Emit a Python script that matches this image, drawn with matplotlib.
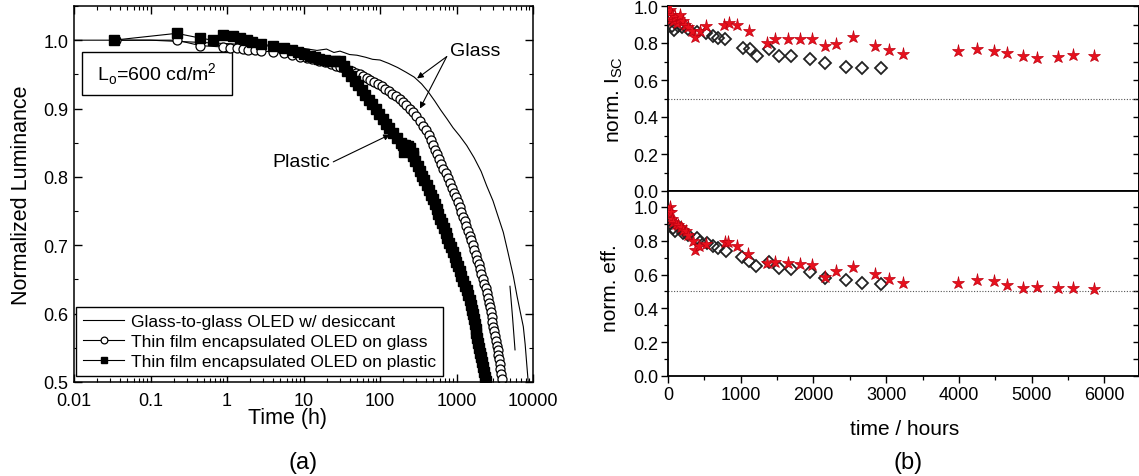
import matplotlib
matplotlib.use("Agg")
import matplotlib.pyplot as plt
from matplotlib.ticker import MultipleLocator, LogLocator, NullFormatter, FixedLocator
from matplotlib.patches import Rectangle

plt.rcParams["font.family"] = ["Liberation Sans", "DejaVu Sans"]
plt.rcParams["mathtext.fontset"] = "custom"
plt.rcParams["mathtext.rm"] = "Liberation Sans"

# ---- panel (a): normalized luminance vs time (log) ----
glass_t = [0.01, 0.1, 1, 3, 5, 10, 15, 20, 25, 30, 40, 50, 65, 80, 100, 130, 170, 220, 280, 350,
           430, 520, 620, 750, 900, 1100, 1360, 1700, 2100, 2480, 3000, 3500, 4090, 4700, 5530,
           6200, 6800, 7470, 7900, 8300, 8690]
glass_v = [1.0, 1.0, 0.995, 0.992, 0.99, 0.988, 0.985, 0.987, 0.982, 0.984, 0.979, 0.978, 0.975,
           0.972, 0.971, 0.966, 0.96, 0.953, 0.946, 0.936, 0.924, 0.911, 0.898, 0.885, 0.872, 0.86,
           0.846, 0.828, 0.808, 0.787, 0.765, 0.742, 0.719, 0.69, 0.655, 0.625, 0.603, 0.581, 0.555,
           0.525, 0.498]
glass2_t = [5000, 5400, 5820]
glass2_v = [0.64, 0.595, 0.547]

tfe_glass_t = [0.035, 0.22, 0.45, 0.9, 1.1, 1.35, 1.6, 1.9, 2.3, 2.8, 4, 5.5, 7, 9, 11, 13, 16, 19,
               23, 27, 30, 34, 38, 43, 48, 54, 60, 67, 75, 84, 94, 105, 117, 130, 145, 162, 180,
               200, 222, 246, 272, 300, 330, 363, 400, 431, 459, 490, 522, 557, 594, 634, 676, 721,
               769, 820, 875, 933, 995, 1052, 1104, 1161, 1222, 1282, 1349, 1419, 1489, 1567,
               1644, 1714, 1791, 1866, 1945, 2028, 2113, 2203, 2301, 2399, 2500, 2570, 2642, 2716,
               2793, 2871, 2951, 3034, 3119, 3206, 3296, 3388, 3467, 3540, 3606, 3681, 3750, 3828,
               3899]
tfe_glass_v = [1.0, 1.0, 0.992, 0.99, 0.989, 0.988, 0.987, 0.986, 0.985, 0.984, 0.983, 0.981, 0.979,
               0.976, 0.974, 0.972, 0.97, 0.968, 0.965, 0.962, 0.961, 0.959, 0.957, 0.955, 0.952,
               0.95, 0.947, 0.945, 0.942, 0.939, 0.936, 0.933, 0.929, 0.926, 0.922, 0.918, 0.914,
               0.91, 0.905, 0.9, 0.895, 0.889, 0.882, 0.875, 0.868, 0.861, 0.854, 0.847, 0.84,
               0.833, 0.826, 0.819, 0.812, 0.805, 0.798, 0.791, 0.784, 0.777, 0.77, 0.763, 0.756,
               0.749, 0.742, 0.735, 0.728, 0.721, 0.714, 0.707, 0.7, 0.693, 0.686, 0.679, 0.672,
               0.665, 0.658, 0.651, 0.644, 0.637, 0.63, 0.623, 0.616, 0.609, 0.602, 0.595, 0.588,
               0.581, 0.574, 0.567, 0.56, 0.553, 0.547, 0.54, 0.533, 0.526, 0.519, 0.512, 0.505]

tfe_plastic_t = [0.033, 0.22, 0.45, 0.65, 0.9, 1.2, 1.5, 1.8, 2.1, 2.8, 4, 5.5, 7, 8.5, 10, 12, 14,
                 16, 19, 22, 26, 30, 33.5, 37.4, 41.8, 46.7, 52.1, 58.2, 64.6, 71.6, 79.4, 88.1,
                 97.5, 108, 120, 133, 149, 167, 187, 200, 204, 214, 230, 246, 270, 270, 289, 310,
                 332, 356, 381, 408, 438, 465, 491, 519, 548, 579, 612, 646, 683, 721, 762, 805,
                 851, 900, 946, 995, 1047, 1104, 1161, 1222, 1285, 1352, 1426, 1500, 1542, 1585,
                 1629, 1679, 1726, 1774, 1824, 1875, 1928, 1982, 2037, 2094, 2158, 2218, 2280,
                 2344, 2410]
tfe_plastic_v = [1.0, 1.01, 1.003, 1.0, 1.008, 1.006, 1.003, 1.0, 0.998, 0.995, 0.991, 0.988, 0.985,
                 0.983, 0.98, 0.977, 0.975, 0.973, 0.971, 0.97, 0.97, 0.969, 0.962, 0.955, 0.948,
                 0.941, 0.934, 0.927, 0.92, 0.913, 0.906, 0.899, 0.892, 0.885, 0.878, 0.871, 0.864,
                 0.857, 0.85, 0.846, 0.837, 0.846, 0.845, 0.843, 0.835, 0.83, 0.823, 0.816, 0.809,
                 0.802, 0.795, 0.788, 0.781, 0.774, 0.767, 0.76, 0.753, 0.746, 0.739, 0.732, 0.725,
                 0.718, 0.711, 0.704, 0.697, 0.69, 0.683, 0.676, 0.669, 0.662, 0.655, 0.648, 0.641,
                 0.634, 0.627, 0.62, 0.613, 0.606, 0.599, 0.592, 0.585, 0.578, 0.571, 0.564, 0.557,
                 0.55, 0.543, 0.536, 0.529, 0.522, 0.515, 0.508, 0.501]

# ---- panel (b): normalized Isc and efficiency vs time ----
isc_dia_t = [10, 51, 83, 140, 188, 280, 395, 523, 615, 683, 789, 1027, 1128, 1224, 1385, 1531,
             1692, 1953, 2160, 2448, 2668, 2930]
isc_dia_v = [0.93, 0.894, 0.872, 0.89, 0.885, 0.876, 0.861, 0.855, 0.837, 0.828, 0.823, 0.774,
             0.769, 0.732, 0.765, 0.729, 0.732, 0.711, 0.693, 0.671, 0.666, 0.666]
isc_star_t = [5, 15, 28, 40, 51, 70, 97, 119, 150, 165, 200, 234, 280, 326, 372, 441, 523, 775,
              844, 949, 1119, 1362, 1476, 1646, 1811, 1981, 2164, 2311, 2549, 2852, 3045, 3228,
              3985, 4250, 4488, 4659, 4879, 5072, 5360, 5575, 5855]
isc_star_v = [1.0, 0.97, 0.98, 0.93, 0.95, 0.92, 0.94, 0.91, 0.93, 0.95, 0.92, 0.9, 0.885, 0.867,
              0.83, 0.867, 0.891, 0.9, 0.909, 0.895, 0.864, 0.801, 0.824, 0.819, 0.824, 0.819,
              0.786, 0.797, 0.833, 0.786, 0.761, 0.743, 0.756, 0.77, 0.759, 0.747, 0.732, 0.72,
              0.725, 0.734, 0.729]

eff_dia_t = [10, 28, 64, 96, 165, 211, 280, 395, 441, 532, 615, 694, 799, 1015, 1115, 1207, 1385,
             1531, 1692, 1953, 2160, 2448, 2668, 2930]
eff_dia_v = [0.93, 0.904, 0.875, 0.855, 0.875, 0.845, 0.835, 0.816, 0.792, 0.786, 0.771, 0.757,
             0.737, 0.704, 0.682, 0.653, 0.673, 0.639, 0.633, 0.613, 0.582, 0.566, 0.548, 0.542]
eff_star_t = [10, 28, 37, 51, 73, 110, 142, 180, 211, 250, 280, 340, 372, 431, 523, 785, 830, 946,
              1106, 1362, 1476, 1646, 1811, 1981, 2164, 2311, 2549, 2852, 3045, 3228, 3985, 4250,
              4488, 4659, 4879, 5072, 5360, 5575, 5855]
eff_star_v = [0.97, 1.0, 0.97, 0.93, 0.91, 0.9, 0.894, 0.88, 0.865, 0.86, 0.835, 0.796, 0.747,
              0.767, 0.78, 0.792, 0.795, 0.767, 0.722, 0.669, 0.677, 0.669, 0.663, 0.657, 0.588,
              0.619, 0.643, 0.602, 0.572, 0.552, 0.552, 0.568, 0.562, 0.536, 0.522, 0.526, 0.518,
              0.522, 0.512]

W, H = 1139, 477
fig = plt.figure(figsize=(W / 100, H / 100), dpi=100)


def box(l, t, r, b):
    # pixel box -> figure fraction
    return [l / W, 1 - b / H, (r - l) / W, (b - t) / H]


# ================= panel (a) =================
ax = fig.add_axes(box(74, 7, 533, 383))
ax.set_xscale("log")
ax.set_xlim(0.01, 10000)
ax.set_ylim(0.5, 1.05)

ax.plot(glass_t, glass_v, color="black", lw=0.8, label="Glass-to-glass OLED w/ desiccant")
ax.plot(glass2_t, glass2_v, color="black", lw=0.8)
ax.plot(tfe_glass_t, tfe_glass_v, color="black", lw=0.8, marker="o", ms=6.5, mfc="white",
        mec="black", mew=0.9, label="Thin film encapsulated OLED on glass")
ax.plot(tfe_plastic_t, tfe_plastic_v, color="black", lw=0.8, marker="s", ms=6.5, mfc="black",
        mec="black", label="Thin film encapsulated OLED on plastic")

ax.xaxis.set_minor_locator(LogLocator(base=10, subs=range(2, 10), numticks=10))
ax.xaxis.set_minor_formatter(NullFormatter())
ax.set_xticks([0.01, 0.1, 1, 10, 100, 1000, 10000])
ax.set_xticklabels(["0.01", "0.1", "1", "10", "100", "1000", "10000"])
ax.yaxis.set_minor_locator(MultipleLocator(0.05))
ax.set_yticks([0.5, 0.6, 0.7, 0.8, 0.9, 1.0])
ax.set_yticklabels(["0.5", "0.6", "0.7", "0.8", "0.9", "1.0"])
ax.tick_params(which="both", direction="in", top=True, right=True, labelsize=13)
ax.tick_params(axis="x", pad=7)
ax.tick_params(axis="y", pad=4)
ax.tick_params(which="major", length=6, width=1)
ax.tick_params(which="minor", length=3, width=0.8)
for s in ax.spines.values():
    s.set_linewidth(1.1)

leg = ax.legend(loc="lower left", bbox_to_anchor=(0.004, 0.016), fontsize=12.5, frameon=True,
                fancybox=False, edgecolor="black", framealpha=1, borderpad=0.4,
                labelspacing=0.28, handlelength=2.4, handletextpad=0.35, borderaxespad=0,
                markerscale=0.75)
leg.get_frame().set_linewidth(1.0)

# L_o box
ax.add_patch(Rectangle((0.017, 0.763), 0.327, 0.115, transform=ax.transAxes, fill=False,
                       edgecolor="black", lw=1.0))
ax.text(0.18, 0.822, r"L$_\mathregular{o}$=600 cd/m$^\mathregular{2}$", transform=ax.transAxes,
        ha="center", va="center", fontsize=14)

arrow = dict(arrowstyle="-|>", color="black", lw=0.8, mutation_scale=9, shrinkA=0, shrinkB=0)
ax.text(820, 0.985, "Glass", fontsize=14, ha="left", va="center")
ax.annotate("", xy=(305, 0.944), xytext=(745, 0.976), arrowprops=arrow)
ax.annotate("", xy=(333, 0.900), xytext=(745, 0.976), arrowprops=arrow)
ax.text(22, 0.822, "Plastic", fontsize=14, ha="right", va="center")
ax.annotate("", xy=(135, 0.862), xytext=(24.5, 0.822), arrowprops=arrow)

fig.text(288 / W, 1 - 419 / H, "Time (h)", fontsize=15.5, ha="center", va="center")
fig.text(22 / W, 1 - 195 / H, "Normalized Luminance", fontsize=15.5, ha="center", va="center",
         rotation=90)
fig.text(303 / W, 1 - 463 / H, "(a)", fontsize=17, ha="center", va="center")

# ================= panel (b) =================
star_col = "#e8111d"
axt = fig.add_axes(box(668, 7, 1138.5, 192))
axb = fig.add_axes(box(668, 192, 1138.5, 377))

for a, dt, dv, st, sv, ytop in ((axt, isc_dia_t, isc_dia_v, isc_star_t, isc_star_v, 1.0),
                                (axb, eff_dia_t, eff_dia_v, eff_star_t, eff_star_v, 1.094)):
    a.set_xlim(0, 6470)
    a.set_ylim(0, ytop)
    a.axhline(0.5, color="#555555", lw=0.8, ls=(0, (1, 1.5)), zorder=1)
    a.plot(dt, dv, ls="none", marker="D", ms=6.5, mfc="none", mec="#222222", mew=1.3, zorder=3)
    a.plot(st, sv, ls="none", marker="*", ms=9.5, color=star_col, mec="#c00010", mew=0.5,
           zorder=4)
    a.xaxis.set_major_locator(MultipleLocator(1000))
    a.xaxis.set_minor_locator(MultipleLocator(500))
    a.yaxis.set_major_locator(FixedLocator([0, 0.2, 0.4, 0.6, 0.8, 1.0]))
    a.yaxis.set_minor_locator(MultipleLocator(0.1))
    a.set_yticklabels(["0.0", "0.2", "0.4", "0.6", "0.8", "1.0"])
    a.tick_params(which="both", direction="out", left=True, right=False, top=False,
                  bottom=True, labelsize=13, pad=2)
    a.tick_params(which="major", length=5, width=1)
    a.tick_params(which="minor", length=3, width=0.9)
    for s in a.spines.values():
        s.set_linewidth(1.3)
    sec = a.secondary_yaxis("right")
    sec.yaxis.set_major_locator(FixedLocator([0, 0.2, 0.4, 0.6, 0.8, 1.0]))
    sec.yaxis.set_minor_locator(MultipleLocator(0.1))
    sec.tick_params(which="both", direction="in", labelright=False, length=4, width=1)
    sec.spines["right"].set_linewidth(1.3)

axt.tick_params(labelbottom=False)
axb.set_xticks([0, 1000, 2000, 3000, 4000, 5000, 6000])
axb.set_xticklabels(["0", "1000", "2000", "3000", "4000", "5000", "6000"])

fig.text(614 / W, 1 - 100 / H, r"norm. I$_\mathregular{SC}$", fontsize=15, ha="center",
         va="center", rotation=90)
fig.text(611 / W, 1 - 288 / H, "norm. eff.", fontsize=15, ha="center", va="center", rotation=90)
fig.text(905 / W, 1 - 430 / H, "time / hours", fontsize=15, ha="center", va="center")
fig.text(908 / W, 1 - 463 / H, "(b)", fontsize=17, ha="center", va="center")

fig.savefig("out.png", dpi=100)
